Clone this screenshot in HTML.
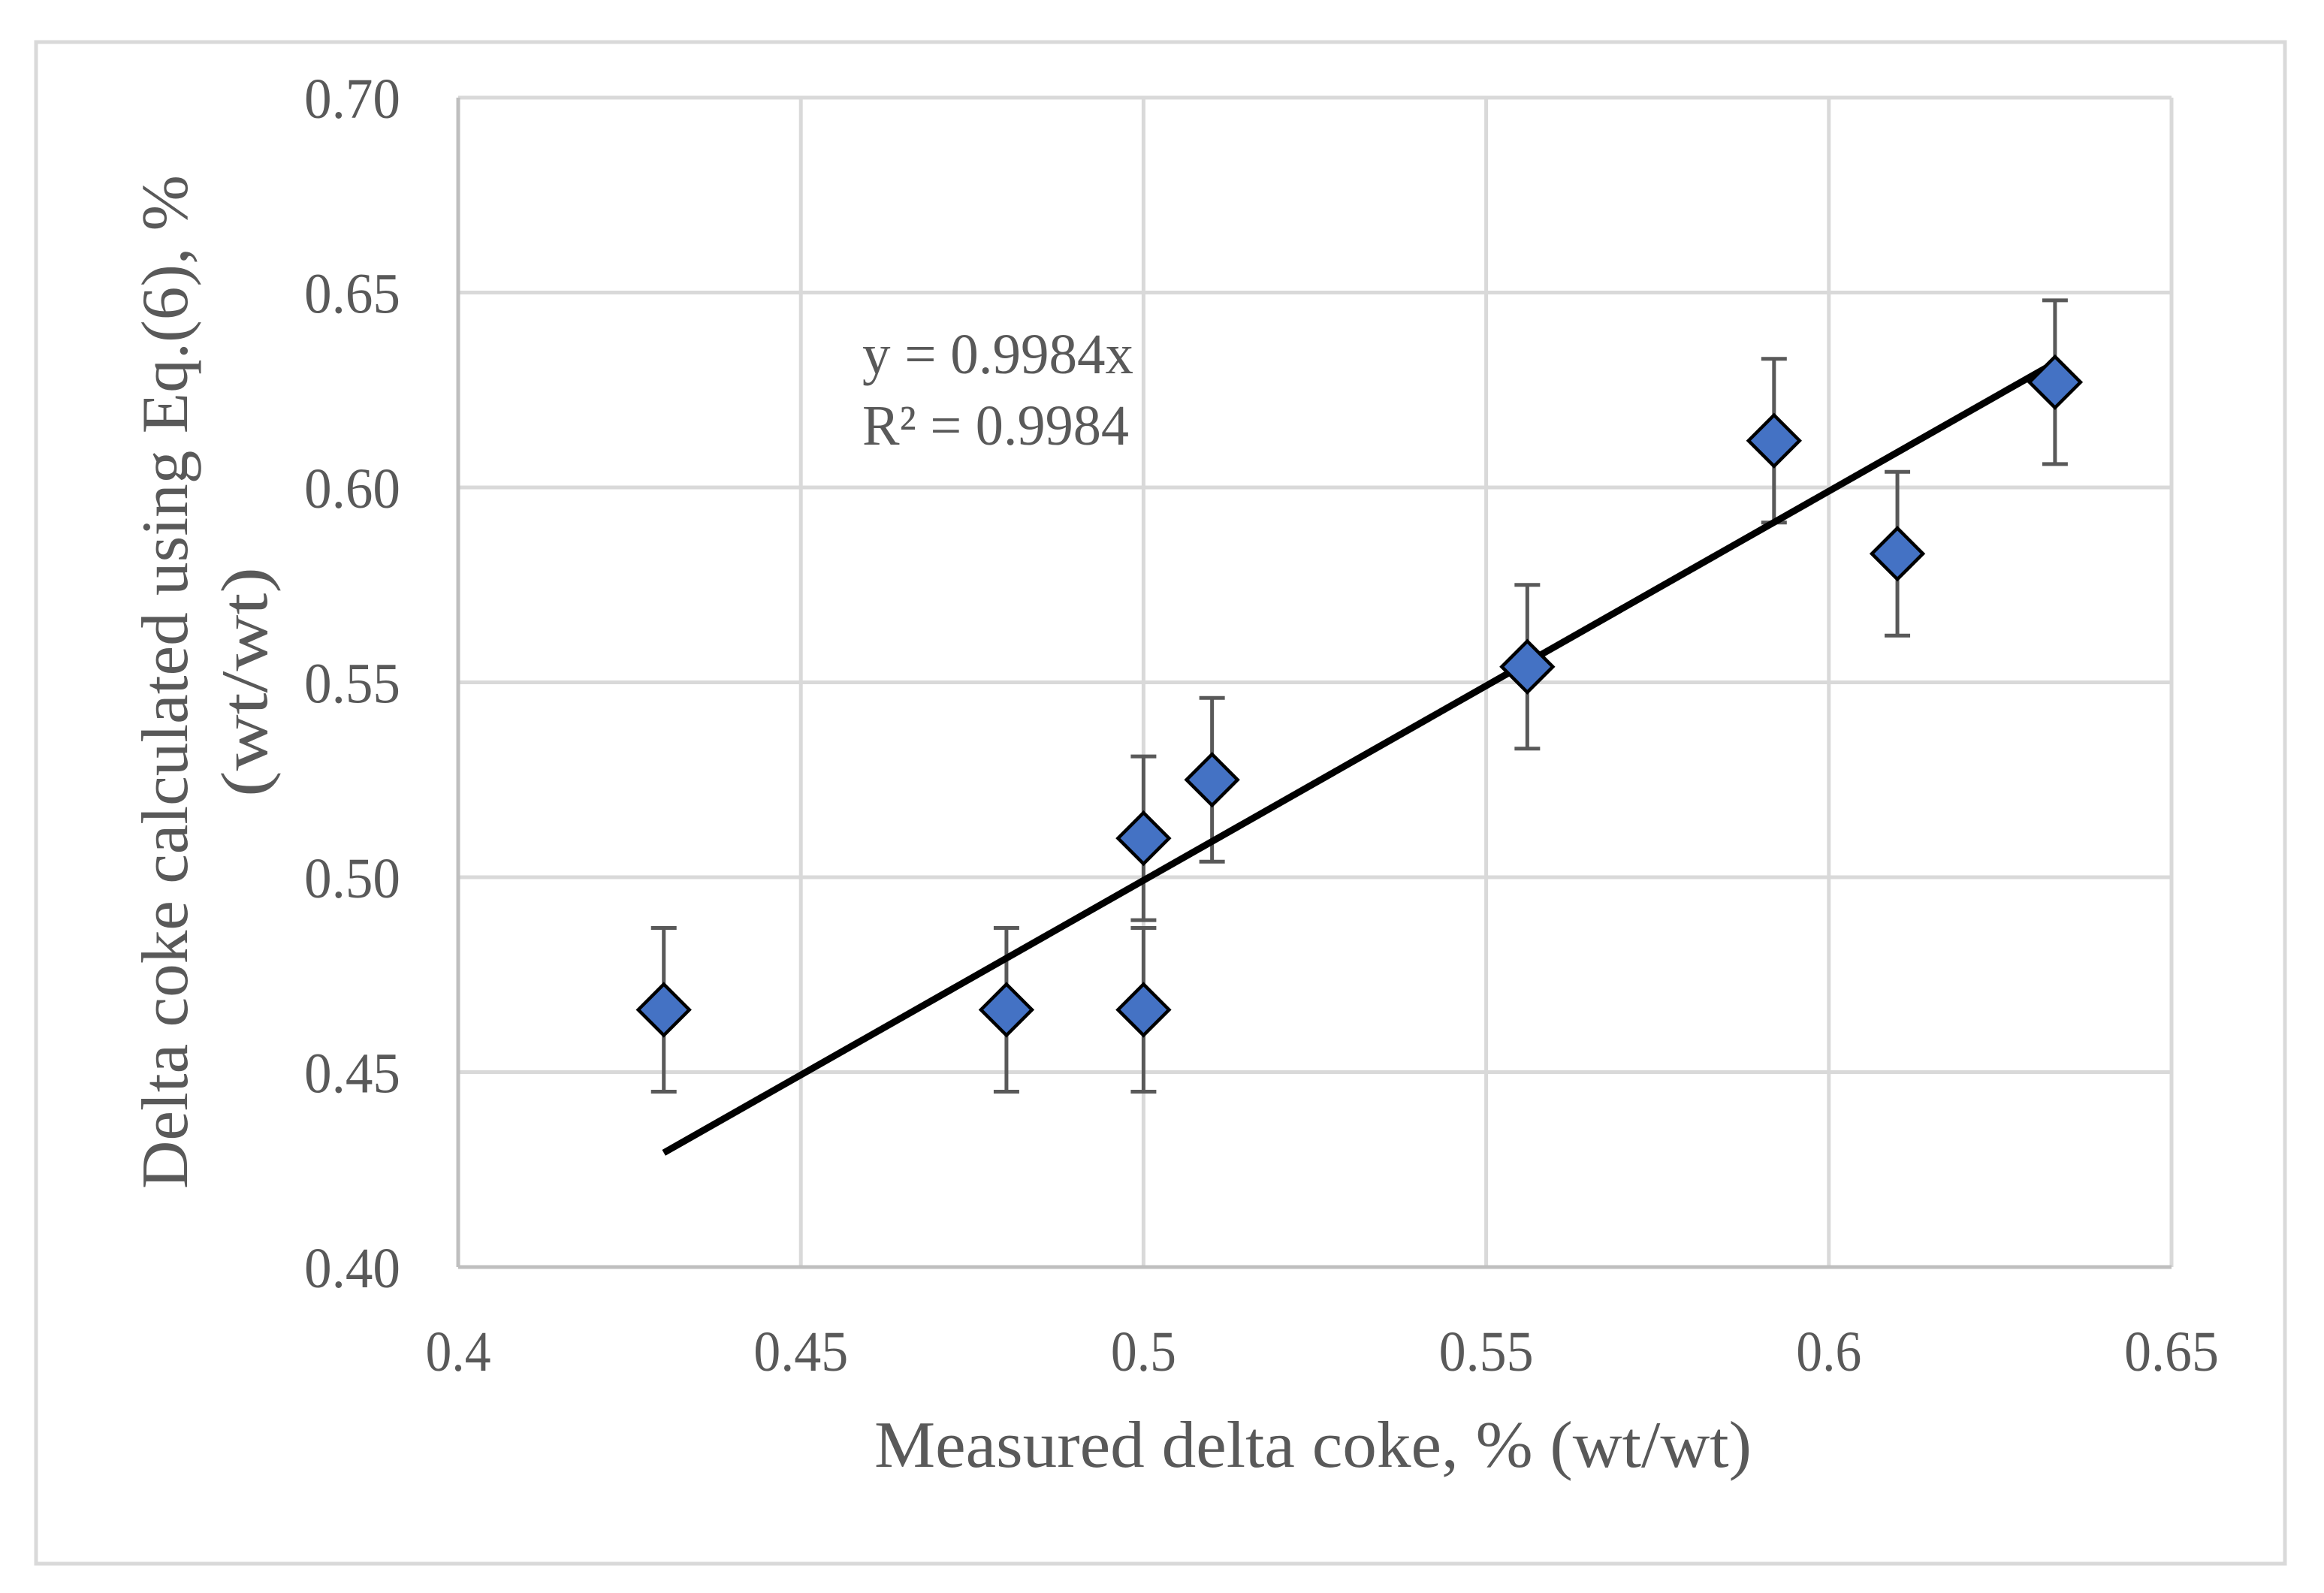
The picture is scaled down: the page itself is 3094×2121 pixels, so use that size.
<!DOCTYPE html>
<html><head><meta charset="utf-8"><style>
html,body{margin:0;padding:0;background:#fff;width:3094px;height:2121px;overflow:hidden}
svg text{font-family:"Liberation Serif",serif;fill:#595959}
</style></head><body>
<svg id="chart" width="3094" height="2121" viewBox="0 0 3094 2121" xmlns="http://www.w3.org/2000/svg">
<rect x="48" y="56" width="2994" height="2026" fill="#fff" stroke="#d9d9d9" stroke-width="5"/>
<g id="grid"></g>
<g id="axes"></g>
<g id="marks"></g>
<text x="1148" y="497" font-size="76" textLength="361" lengthAdjust="spacingAndGlyphs">y = 0.9984x</text>
<text x="1148" y="592" font-size="76" textLength="355" lengthAdjust="spacingAndGlyphs">R² = 0.9984</text>
<text x="1164" y="1953" font-size="88" textLength="1168" lengthAdjust="spacingAndGlyphs">Measured delta coke, % (wt/wt)</text>
<g transform="translate(0,908) rotate(-90)">
<text x="-675" y="249" font-size="88" textLength="1350" lengthAdjust="spacingAndGlyphs">Delta coke calculated using Eq.(6), %</text>
<text x="-153" y="355" font-size="88" textLength="306" lengthAdjust="spacingAndGlyphs">(wt/wt)</text>
</g>
</svg>
<script>
const xTicks=[0.4,0.45,0.5,0.55,0.6,0.65];
const xTickLabels=["0.4","0.45","0.5","0.55","0.6","0.65"];
const yTicks=[0.40,0.45,0.50,0.55,0.60,0.65,0.70];
const yTickLabels=["0.40","0.45","0.50","0.55","0.60","0.65","0.70"];
const measured=[0.43,0.48,0.50,0.50,0.51,0.556,0.592,0.61,0.633];
const calculated=[0.466,0.466,0.466,0.510,0.525,0.554,0.612,0.583,0.627];
const errorBar=[0.021,0.021,0.021,0.021,0.021,0.021,0.021,0.021,0.021];
const slope=0.9984;
const PL=610,PR=2891,PT=130,PB=1687;
const X=v=>PL+(v-0.4)/(0.25)*(PR-PL);
const Y=v=>PB-(v-0.4)/(0.3)*(PB-PT);
const NS="http://www.w3.org/2000/svg";
function mk(tag,attrs,parent){const e=document.createElementNS(NS,tag);for(const k in attrs)e.setAttribute(k,attrs[k]);parent.appendChild(e);return e;}
const grid=document.getElementById('grid'),axes=document.getElementById('axes'),marks=document.getElementById('marks');
xTicks.forEach((t,i)=>{
 const l=mk('line',{x1:X(t),x2:X(t),y1:PT,y2:PB,stroke:'#d9d9d9','stroke-width':5},grid);
 
 
 const w=xTickLabels[i].length>3?126:87;
 const tx=mk('text',{x:X(t)-w/2,y:1825,'font-size':76,textLength:w,lengthAdjust:'spacingAndGlyphs'},axes);
 tx.textContent=xTickLabels[i];
 
 
});
yTicks.forEach((t,i)=>{
 const l=mk('line',{x1:PL,x2:PR,y1:Y(t),y2:Y(t),stroke:'#d9d9d9','stroke-width':5},grid);
 
 
 const tx=mk('text',{x:533-128,y:Y(t)+27,'font-size':76,textLength:128,lengthAdjust:'spacingAndGlyphs'},axes);
 tx.textContent=yTickLabels[i];
 
 
});
const xa=mk('line',{x1:PL,x2:PR,y1:PB,y2:PB,stroke:'#bfbfbf','stroke-width':5},axes);


const ya=mk('line',{x1:PL,x2:PL,y1:PT,y2:PB,stroke:'#bfbfbf','stroke-width':5},axes);


measured.forEach((m,i)=>{
 const c=calculated[i],e=errorBar[i],x=X(m);
 const g=mk('g',{},marks);
 
 
 mk('line',{x1:x,x2:x,y1:Y(c-e),y2:Y(c+e),stroke:'#595959','stroke-width':5},g);
 mk('line',{x1:x-17,x2:x+17,y1:Y(c+e),y2:Y(c+e),stroke:'#595959','stroke-width':5},g);
 mk('line',{x1:x-17,x2:x+17,y1:Y(c-e),y2:Y(c-e),stroke:'#595959','stroke-width':5},g);
});
const x0=Math.min(...measured),x1=Math.max(...measured);
const tl=mk('line',{x1:X(x0),y1:Y(slope*x0),x2:X(x1),y2:Y(slope*x1),stroke:'#000','stroke-width':9},marks);


measured.forEach((m,i)=>{
 const x=X(m),y=Y(calculated[i]),r=34;
 const p=mk('polygon',{points:`${x},${y-r} ${x+r},${y} ${x},${y+r} ${x-r},${y}`,fill:'#4472c4',stroke:'#000','stroke-width':4.5},marks);
 
 
});
</script>
</body></html>
